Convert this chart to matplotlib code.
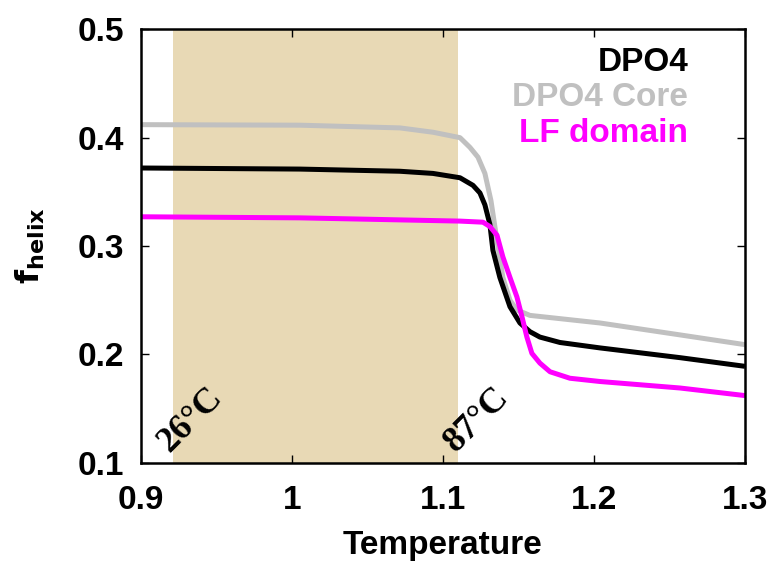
import numpy as np
import matplotlib.pyplot as plt

# curves
dpo4_t = [0.9, 1.0053, 1.0715, 1.0934, 1.1113, 1.1199, 1.1245, 1.1278, 1.1311, 1.1331, 1.1377,
          1.1444, 1.151, 1.1576, 1.1642, 1.1775, 1.204, 1.257, 1.3]
dpo4_f = [0.372, 0.371, 0.369, 0.367, 0.363, 0.356, 0.349, 0.338, 0.320, 0.296, 0.271,
          0.244, 0.229, 0.221, 0.216, 0.211, 0.206, 0.197, 0.189]

core_t = [0.9, 1.0053, 1.0715, 1.0934, 1.1113, 1.1179, 1.1232, 1.1278, 1.1318, 1.1358, 1.1397,
          1.1444, 1.149, 1.1576, 1.1775, 1.204, 1.257, 1.3]
core_f = [0.412, 0.4115, 0.409, 0.405, 0.400, 0.391, 0.382, 0.367, 0.342, 0.305, 0.271,
          0.250, 0.241, 0.236, 0.233, 0.229, 0.218, 0.209]

lf_t = [0.9, 1.0053, 1.1113, 1.1265, 1.1311, 1.1358, 1.1397, 1.1444, 1.149, 1.1523, 1.1556,
        1.1589, 1.1642, 1.1709, 1.1775, 1.1841, 1.204, 1.257, 1.3]
lf_f = [0.327, 0.326, 0.323, 0.322, 0.318, 0.310, 0.290, 0.271, 0.253, 0.235, 0.216,
        0.201, 0.192, 0.184, 0.181, 0.178, 0.175, 0.169, 0.162]

shade = (0.921, 1.110)
xticks = [0.9, 1.0, 1.1, 1.2, 1.3]
xticklabels = ['0.9', '1', '1.1', '1.2', '1.3']
yticks = [0.1, 0.2, 0.3, 0.4, 0.5]

fs = 24
fig = plt.figure(figsize=(7.74, 5.63), dpi=100)
ax = fig.add_axes([0.182, 0.178, 0.7805, 0.770])

ax.axvspan(shade[0], shade[1], color='#e8d9b5', lw=0, zorder=0)
ax.plot(core_t, core_f, color='#c0c0c0', lw=3.6, solid_capstyle='butt', solid_joinstyle='round')
ax.plot(dpo4_t, dpo4_f, color='black', lw=3.6, solid_capstyle='butt', solid_joinstyle='round')
ax.plot(lf_t, lf_f, color='#ff00ff', lw=3.6, solid_capstyle='butt', solid_joinstyle='round')

ax.set_xlim(0.9, 1.3)
ax.set_ylim(0.1, 0.5)
ax.set_xticks(xticks)
ax.set_xticklabels(xticklabels)
ax.set_yticks(yticks)
ax.tick_params(axis='y', pad=12)
ax.tick_params(axis='x', pad=16)
ax.tick_params(direction='in', length=6, width=1, top=True, right=True, labelsize=fs)
for lab in ax.get_xticklabels() + ax.get_yticklabels():
    lab.set_fontweight('bold')
    lab.set_family('Liberation Sans')
for s in ax.spines.values():
    s.set_linewidth(1.8)

ax.set_xlabel('Temperature', fontsize=fs, fontweight='bold', family='Liberation Sans', labelpad=10)
ax.set_ylabel(r'$\mathbf{f_{helix}}$', fontsize=23, family='Liberation Sans', labelpad=22)

ax.text(0.906, 0.924, 'DPO4', transform=ax.transAxes, ha='right', va='center',
        fontsize=fs, fontweight='bold', family='Liberation Sans', color='black')
ax.text(0.906, 0.843, 'DPO4 Core', transform=ax.transAxes, ha='right', va='center',
        fontsize=fs, fontweight='bold', family='Liberation Sans', color='#c0c0c0')
ax.text(0.906, 0.760, 'LF domain', transform=ax.transAxes, ha='right', va='center',
        fontsize=fs, fontweight='bold', family='Liberation Sans', color='#ff00ff')

ax.text(0.923, 0.104, '26°C', rotation=45, fontsize=26, fontweight='bold',
        family='Liberation Serif', ha='left', va='bottom', rotation_mode='anchor')
ax.text(1.112, 0.104, '87°C', rotation=45, fontsize=26, fontweight='bold',
        family='Liberation Serif', ha='left', va='bottom', rotation_mode='anchor')

fig.savefig('out.png', dpi=100)
